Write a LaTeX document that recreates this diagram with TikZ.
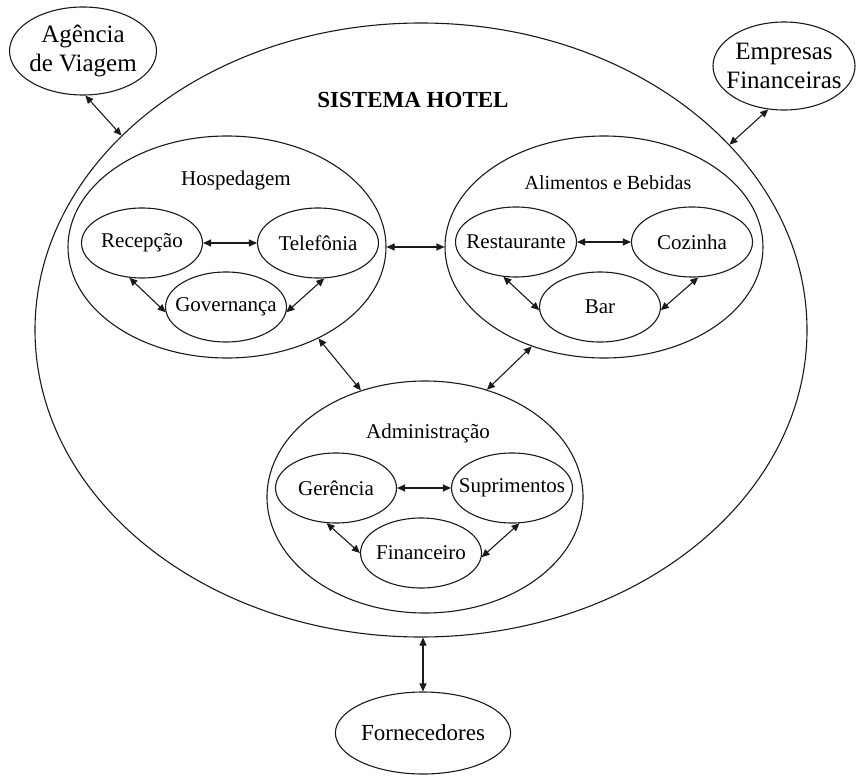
\documentclass[tikz,border=0pt]{standalone}
\usepackage{fontspec}
\setmainfont{Liberation Serif}
\usetikzlibrary{arrows.meta,shapes.geometric}
\definecolor{ink}{HTML}{1A1A1A}

\begin{document}
\begin{tikzpicture}[x=1pt,y=-1pt,
  oval/.style={ellipse,draw=ink,line width=1.1pt,inner sep=0pt},
  area/.style={oval,minimum width=318pt,minimum height=222pt},
  unit/.style={oval,minimum width=121pt,minimum height=70pt,
    label={[font=\fontsize{21}{24}\selectfont]center:#1}},
  party/.style={oval,label={[align=center,font=\fontsize{25}{29}\selectfont]center:#1}},
  title/.style={font=\fontsize{21}{24}\selectfont},
  link/.style={{Triangle[length=8pt,width=7pt]}-{Triangle[length=8pt,width=7pt]},line width=1.1pt,ink}]
  \useasboundingbox (0,0) rectangle (856,778);

  % outer system
  \node[oval,minimum width=772pt,minimum height=614pt] (hotel) at (421,330) {};
  \node[font=\fontsize{23}{26}\selectfont\bfseries] (hoteltitle) at (413,100) {SISTEMA HOTEL};

  % external parties
  \node[party={Agência\\de Viagem},minimum width=147pt,minimum height=88pt] (agencia) at (83,51) {};
  \node[party={Empresas\\Financeiras},minimum width=142pt,minimum height=88pt] (empresas) at (784,66) {};
  \node[oval,minimum width=146pt,minimum height=82pt,font=\fontsize{23}{26}\selectfont] (fornec) at (423,733) {Fornecedores};

  % areas
  \node[area] (hosp) at (227,247) {};
  \node[title] (hosptitle) at (236,180) {Hospedagem};
  \node[area] (alim) at (604,247) {};
  \node[title,font=\fontsize{20}{24}\selectfont] (alimtitle) at (608,183) {Alimentos e Bebidas};
  \node[area,minimum width=316pt,minimum height=232pt] (admin) at (425,497) {};
  \node[title] (admintitle) at (428,433) {Administração};

  % units
  \node[unit=Recepção] (recep) at (142,243) {};
  \node[unit=Telefônia] (telef) at (318,243) {};
  \node[unit=Governança] (gov) at (226,307) {};
  \node[unit=Restaurante] (rest) at (516,242) {};
  \node[unit=Cozinha] (coz) at (692,242) {};
  \node[unit=Bar] (bar) at (600,307) {};
  \node[unit=Gerência] (ger) at (336,488) {};
  \node[unit=Suprimentos] (supr) at (512,488) {};
  \node[unit=Financeiro] (fin) at (421,553) {};

  \draw[link] (agencia.-87) -- (hotel.147);
  \draw[link] (empresas.250) -- (hotel.31);
  \draw[link] (fornec.north) -- (fornec.north |- hotel.south);

  \draw[link] (hosp.east) -- (alim.west);
  \draw[link] (hosp.-45) -- (admin.121);
  \draw[link] (alim.234) -- (admin.60);

  \draw[link] (recep.east) -- (telef.west);
  \draw[link] (recep.250) -- (gov.185);
  \draw[link] (telef.280) -- (gov.-5);
  \draw[link] (rest.east) -- (coz.west);
  \draw[link] (rest.250) -- (bar.183);
  \draw[link] (coz.280) -- (bar.-3);
  \draw[link] (ger.east) -- (supr.west);
  \draw[link] (ger.255) -- (fin.west);
  \draw[link] (supr.282) -- (fin.-4);
\end{tikzpicture}
\end{document}
